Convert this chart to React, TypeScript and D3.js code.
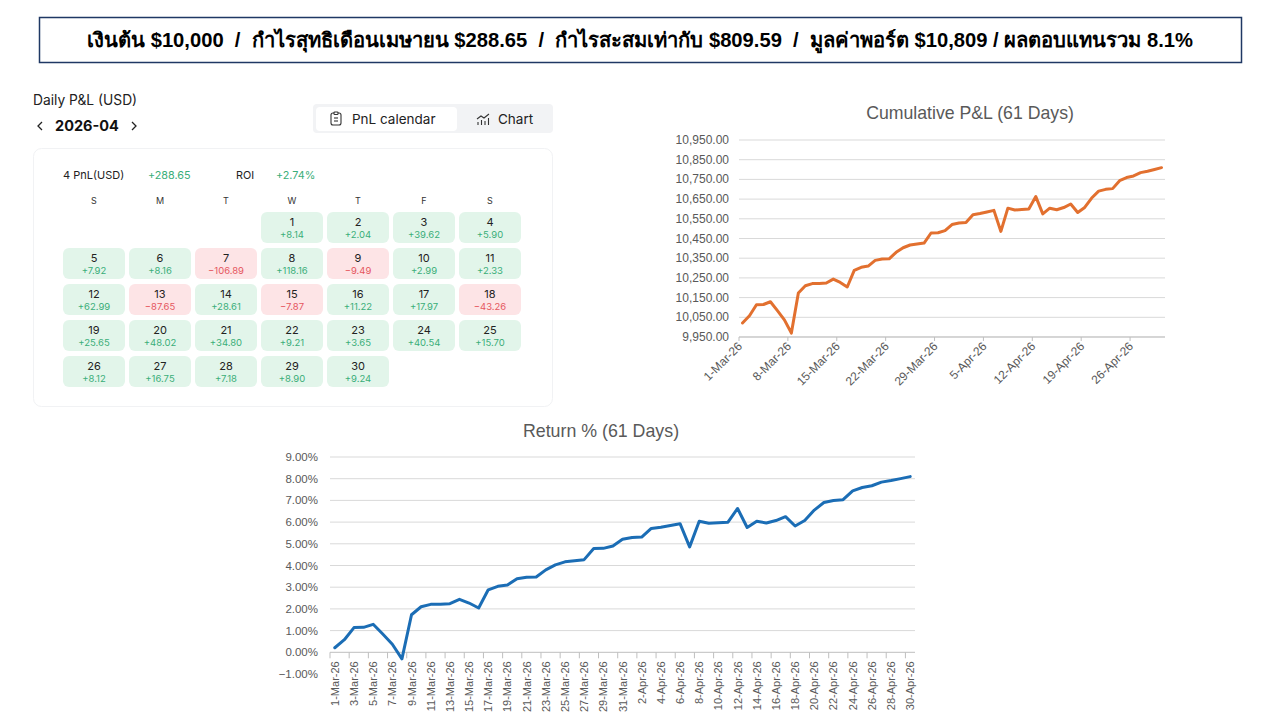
import React from 'react';
import * as d3 from 'd3';

// March running balance, April daily P&L from the calendar
const startCapital = 10000;
const marchBalance = [
  10021, 10058, 10114, 10115, 10129, 10084, 10037, 9970, 10173, 10210,
  10221, 10221, 10224, 10244, 10227, 10204, 10288, 10304, 10310, 10339,
  10346, 10347, 10380, 10403, 10417, 10422, 10427, 10478, 10479, 10490, 10520.94,
];
const aprilDaily = [
  8.14, 2.04, 39.62, 5.9, 7.92, 8.16, -106.89, 118.16, -9.49, 2.99,
  2.33, 62.99, -87.65, 28.61, -7.87, 11.22, 17.97, -43.26, 25.65, 48.02,
  34.8, 9.21, 3.65, 40.54, 15.7, 8.12, 16.75, 7.18, 8.9, 9.24,
];
const weekDays = ['S', 'M', 'T', 'W', 'T', 'F', 'S'];
const cumTicks = [9950, 10050, 10150, 10250, 10350, 10450, 10550, 10650, 10750, 10850, 10950];
const retTicks = [-1, 0, 1, 2, 3, 4, 5, 6, 7, 8, 9];
const headline =
  'เงินต้น $10,000  /  กำไรสุทธิเดือนเมษายน $288.65  /  กำไรสะสมเท่ากับ $809.59  /  มูลค่าพอร์ต $10,809 / ผลตอบแทนรวม 8.1%';

const dates = d3.timeDay.range(new Date(2026, 2, 1), new Date(2026, 4, 1));
const fmtDate = d3.timeFormat('%-d-%b-%y');

// build balance series
const balance: number[] = [...marchBalance];
aprilDaily.forEach(v => balance.push(balance[balance.length - 1] + v));
const returns = balance.map(b => ((b - startCapital) / startCapital) * 100);

const green = '#3aae79';
const red = '#e5565e';
const axisGrey = '#595959';
const excelFont = '"Liberation Sans", Arial, sans-serif';
const uiFont = 'Inter, "Noto Sans", sans-serif';

const CalendarPanel = () => {
  const firstCol = 3; // 1 April 2026 is a Wednesday
  const total = d3.sum(aprilDaily);
  const roi = (total / marchBalance[marchBalance.length - 1]) * 100;
  return (
    <g fontFamily={uiFont}>
      <text x={33} y={105} fontSize={13.8} fill="#222">Daily P&amp;L (USD)</text>
      <path d="M42,122 l-4,4 l4,4" fill="none" stroke="#222" strokeWidth={1.3} />
      <text x={55} y={131} fontSize={14.5} fontWeight={700} fill="#111">2026-04</text>
      <path d="M132,122 l4,4 l-4,4" fill="none" stroke="#222" strokeWidth={1.3} />

      <rect x={313} y={104} width={240} height={29} rx={4} fill="#f2f3f5" />
      <rect x={316} y={107} width={141} height={24} rx={4} fill="#fff" />
      <g transform="translate(331,112)" fill="none" stroke="#333" strokeWidth={1.1}>
        <rect x={0} y={1} width={10} height={12} rx={2} />
        <rect x={3} y={0} width={4} height={2.5} rx={0.8} fill="#fff" />
        <line x1={3} x2={7} y1={6} y2={6} />
        <line x1={3} x2={7} y1={9} y2={9} />
      </g>
      <text x={352} y={124} fontSize={13.5} fill="#222">PnL calendar</text>
      <g transform="translate(477,114)" fill="none" stroke="#333" strokeWidth={1.1}>
        <path d="M0,5 l4,-3 l3,2 l5,-4" />
        <line x1={1} x2={1} y1={8} y2={11} />
        <line x1={4.5} x2={4.5} y1={6} y2={11} />
        <line x1={8} x2={8} y1={7} y2={11} />
        <line x1={11.5} x2={11.5} y1={4} y2={11} />
      </g>
      <text x={498} y={124} fontSize={13.5} fill="#222">Chart</text>

      <rect x={33.5} y={148.5} width={519} height={258} rx={8} fill="#fff" stroke="#f1f2f4" />
      <text x={63} y={179} fontSize={11} fill="#222">4 PnL(USD)</text>
      <text x={148} y={179} fontSize={10.8} fill={green}>{d3.format('+.2f')(total)}</text>
      <text x={236} y={179} fontSize={10.8} fill="#222">ROI</text>
      <text x={276} y={179} fontSize={10.8} fill={green}>{d3.format('+.2f')(roi)}%</text>

      {weekDays.map((d, i) => (
        <text key={'wd' + i} x={94 + i * 66} y={204} fontSize={9} fill="#333" textAnchor="middle">{d}</text>
      ))}
      {aprilDaily.map((v, i) => {
        const slot = i + firstCol;
        const col = slot % 7;
        const row = Math.floor(slot / 7);
        const x = 63 + col * 66;
        const y = 212 + row * 36;
        const up = v >= 0;
        return (
          <g key={'c' + i}>
            <rect x={x} y={y} width={62} height={31} rx={6} fill={up ? '#e2f5ea' : '#fde4e6'} />
            <text x={x + 31} y={y + 14} fontSize={11} fill="#222" textAnchor="middle">{i + 1}</text>
            <text x={x + 31} y={y + 26} fontSize={9.5} fill={up ? green : red} textAnchor="middle">
              {d3.format('+.2f')(v)}
            </text>
          </g>
        );
      })}
    </g>
  );
};

const CumulativeChart = () => {
  const x = d3.scaleBand<number>().domain(d3.range(balance.length)).range([739, 1165]).padding(0);
  const y = d3.scaleLinear().domain([9950, 10950]).range([337, 140]);
  const line = d3
    .line<number>()
    .x((_, i) => (x(i) ?? 0) + x.bandwidth() / 2)
    .y(d => y(d));
  const tickIdx = d3.range(0, balance.length, 7);
  return (
    <g fontFamily={excelFont}>
      <text x={970} y={119} fontSize={17.7} fill={axisGrey} textAnchor="middle">Cumulative P&amp;L (61 Days)</text>
      {cumTicks.map(t => (
        <g key={t}>
          <line x1={739} x2={1165} y1={y(t)} y2={y(t)} stroke="#d9d9d9" strokeWidth={1} />
          <text x={729} y={y(t) + 4} fontSize={12} fill={axisGrey} textAnchor="end">{d3.format(',.2f')(t)}</text>
        </g>
      ))}
      <line x1={739} x2={1165} y1={y(9950)} y2={y(9950)} stroke="#bfbfbf" />
      {tickIdx.map(i => {
        const tx = x(i) ?? 0;
        return (
          <g key={i}>
            <line x1={tx} x2={tx} y1={y(9950)} y2={y(9950) + 4} stroke="#bfbfbf" />
            <text
              transform={`translate(${tx + 4},${y(9950) + 10}) rotate(-45)`}
              fontSize={12}
              fill={axisGrey}
              textAnchor="end"
            >
              {fmtDate(dates[i])}
            </text>
          </g>
        );
      })}
      <path d={line(balance) ?? ''} fill="none" stroke="#e2702f" strokeWidth={3} strokeLinejoin="round" strokeLinecap="round" />
    </g>
  );
};

const ReturnChart = () => {
  const x = d3.scaleBand<number>().domain(d3.range(returns.length)).range([330, 915]).padding(0);
  const y = d3.scaleLinear().domain([-1, 9]).range([674, 457]);
  const line = d3
    .line<number>()
    .x((_, i) => (x(i) ?? 0) + x.bandwidth() / 2)
    .y(d => y(d));
  const labelIdx = d3.range(0, returns.length, 2);
  return (
    <g fontFamily={excelFont}>
      <text x={601} y={437} fontSize={17.8} fill={axisGrey} textAnchor="middle">Return % (61 Days)</text>
      {retTicks.map(t => (
        <g key={t}>
          {t > 0 && <line x1={330} x2={915} y1={y(t)} y2={y(t)} stroke="#d9d9d9" strokeWidth={1} />}
          <text x={318} y={y(t) + 4} fontSize={11.5} fill={axisGrey} textAnchor="end">{d3.format('.2f')(t)}%</text>
        </g>
      ))}
      <line x1={330} x2={915} y1={y(0)} y2={y(0)} stroke="#bfbfbf" />
      {labelIdx.map(i => {
        const tx = x(i) ?? 0;
        return (
          <g key={i}>
            <line x1={tx} x2={tx} y1={y(0)} y2={y(0) + 6} stroke="#bfbfbf" />
            <text
              transform={`translate(${tx + x.bandwidth() / 2 + 4},${y(0) + 9}) rotate(-90)`}
              fontSize={11}
              fill={axisGrey}
              textAnchor="end"
            >
              {fmtDate(dates[i])}
            </text>
          </g>
        );
      })}
      <path d={line(returns) ?? ''} fill="none" stroke="#1b6db5" strokeWidth={3} strokeLinejoin="round" strokeLinecap="round" />
    </g>
  );
};

export default function App() {
  return (
    <div style={{ position: 'absolute', left: 0, top: 0, width: 1280, height: 720, background: '#fff' }}>
      <svg width={1280} height={720} style={{ display: 'block' }}>
        <rect x={0} y={0} width={1280} height={720} fill="#fff" />
        <rect x={39.5} y={17.5} width={1202} height={45} fill="#fff" stroke="#1f3864" strokeWidth={1.5} />
        <text
          x={640}
          y={47}
          fontSize={20.2}
          fontWeight={700}
          fill="#000"
          textAnchor="middle"
          fontFamily={excelFont}
          style={{ whiteSpace: 'pre' }}
        >
          {headline}
        </text>
        <CalendarPanel />
        <CumulativeChart />
        <ReturnChart />
      </svg>
    </div>
  );
}
